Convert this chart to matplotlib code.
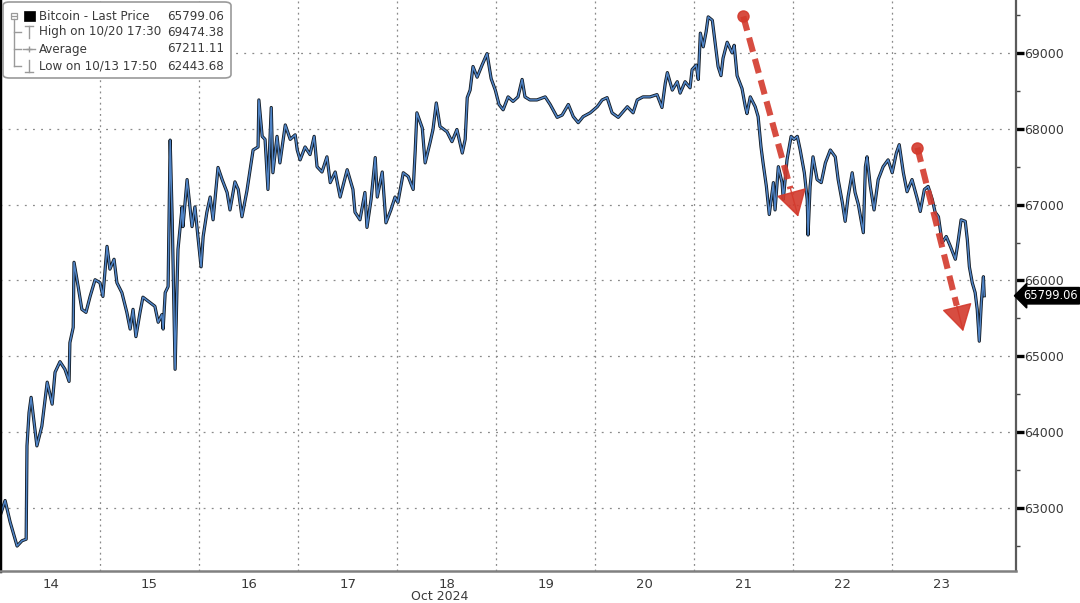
"""
Bitcoin last price, Oct 14-23 2024, Bloomberg-style chart
"""

import matplotlib
matplotlib.use('Agg')
import matplotlib.pyplot as plt
from matplotlib.patches import FancyBboxPatch
from matplotlib.lines import Line2D
from matplotlib.ticker import FixedLocator, FixedFormatter, NullFormatter
from matplotlib.transforms import blended_transform_factory

# hours since Oct 14 00:00
hours = [-0.2, 1.0, 2.2, 3.9, 5.1, 6.1, 6.3, 6.8, 7.3, 8.7,
         9.9, 11.2, 12.4, 13.1, 14.3, 15.5, 16.5, 16.7, 17.5, 17.7,
         18.7, 19.6, 20.6, 21.6, 22.8, 24.0, 24.7, 25.7, 26.4, 27.4,
         28.1, 29.3, 30.5, 31.3, 32.0, 32.7, 33.7, 34.4, 36.1, 37.3,
         38.1, 39.0, 39.3, 39.8, 40.5, 41.0, 41.5, 42.2, 42.7, 42.9,
         43.9, 44.1, 45.1, 46.3, 47.0, 47.8, 48.5, 49.0, 49.9, 50.7,
         51.4, 52.6, 53.6, 54.8, 55.5, 56.7, 57.5, 58.4, 59.6, 61.1,
         62.3, 62.5, 63.3, 64.0, 64.7, 65.5, 65.9, 66.9, 67.6, 68.9,
         70.1, 71.3, 71.8, 72.5, 73.7, 74.9, 75.9, 76.6, 77.8, 79.0,
         79.8, 81.0, 82.2, 83.9, 85.3, 85.8, 87.0, 88.2, 88.7, 89.7,
         90.7, 91.2, 92.4, 93.3, 94.5, 95.5, 96.2, 97.5, 98.7, 99.9,
         100.4, 100.8, 102.1, 102.8, 104.0, 104.7, 105.5, 106.4, 108.1, 109.3,
         110.5, 111.8, 112.5, 113.0, 113.7, 114.4, 115.4, 116.6, 117.8, 118.8,
         119.8, 120.7, 121.7, 122.9, 124.1, 125.3, 126.3, 127.0, 128.2, 129.9,
         131.9, 133.1, 134.8, 136.0, 137.5, 138.7, 139.9, 141.1, 142.8, 144.5,
         145.7, 146.9, 148.1, 149.6, 151.8, 153.2, 154.2, 155.6, 157.3, 159.0,
         160.2, 161.0, 161.5, 162.7, 163.9, 164.6, 165.8, 167.0, 167.5, 168.5,
         169.0, 169.5, 170.2, 170.9, 171.4, 172.4, 173.1, 173.8, 174.5, 175.0,
         176.0, 177.2, 177.7, 178.4, 179.6, 180.4, 180.8, 181.6, 182.8, 183.5,
         184.2, 184.7, 185.5, 186.2, 187.2, 187.6, 188.4, 189.3, 189.6, 190.5,
         191.5, 192.2, 193.0, 193.7, 194.7, 195.4, 195.6, 196.1, 196.8, 197.8,
         198.8, 199.8, 201.0, 202.2, 202.9, 203.9, 204.6, 205.3, 206.3, 207.0,
         207.8, 209.0, 209.5, 209.9, 210.7, 211.6, 212.6, 213.8, 215.0, 216.0,
         217.0, 217.7, 218.7, 219.6, 220.8, 222.1, 222.8, 223.8, 224.7, 225.7,
         226.4, 227.2, 228.1, 229.1, 230.1, 231.3, 231.8, 232.7, 233.7, 234.2,
         234.7, 235.4, 236.1, 236.6, 237.1, 237.6, 238.1, 238.3]

prices = [62900, 63100, 62820, 62500, 62570, 62590, 63820, 64260, 64460, 63820,
          64080, 64660, 64370, 64790, 64930, 64830, 64670, 65180, 65380, 66240,
          65920, 65620, 65580, 65790, 66010, 65970, 65790, 66450, 66150, 66280,
          65970, 65840, 65580, 65360, 65620, 65260, 65580, 65780, 65710, 65660,
          65450, 65550, 65360, 65840, 65920, 67850, 66800, 64830, 66010, 66410,
          66970, 66710, 67330, 66710, 66970, 66540, 66180, 66580, 66900, 67100,
          66800, 67490, 67330, 67160, 66930, 67300, 67200, 66840, 67180, 67720,
          67760, 68380, 67900, 67860, 67200, 68280, 67420, 67900, 67550, 68050,
          67860, 67920, 67720, 67590, 67760, 67660, 67900, 67500, 67430, 67630,
          67290, 67430, 67100, 67460, 67200, 66900, 66800, 67160, 66700, 67070,
          67620, 67100, 67430, 66760, 66930, 67100, 67030, 67420, 67370, 67200,
          67720, 68210, 68010, 67550, 67820, 67990, 68340, 68030, 67960, 67830,
          67990, 67680, 67860, 68410, 68510, 68820, 68680, 68840, 68990, 68660,
          68510, 68320, 68250, 68420, 68360, 68420, 68650, 68420, 68380, 68380,
          68420, 68320, 68150, 68180, 68320, 68160, 68080, 68160, 68210, 68290,
          68380, 68410, 68210, 68150, 68290, 68210, 68380, 68420, 68420, 68450,
          68280, 68600, 68740, 68510, 68620, 68470, 68620, 68540, 68780, 68840,
          68650, 69260, 69080, 69280, 69474.38, 69430, 69130, 68820, 68700, 68930,
          69140, 69000, 69100, 68700, 68530, 68290, 68200, 68420, 68290, 68160,
          67760, 67550, 67240, 66870, 67290, 66930, 67500, 67290, 67070, 67590,
          67900, 67860, 67900, 67720, 67420, 67070, 66600, 67240, 67630, 67330,
          67290, 67550, 67720, 67630, 67330, 67030, 66780, 67100, 67420, 67160,
          67000, 66630, 67500, 67630, 67240, 66930, 67330, 67500, 67590, 67420,
          67680, 67790, 67420, 67170, 67330, 67070, 66910, 67200, 67240, 67070,
          66900, 66840, 66500, 66580, 66450, 66280, 66450, 66800, 66780, 66540,
          66180, 65970, 65840, 65620, 65200, 65710, 66050, 65799.06]

day_labels = ['14', '15', '16', '17', '18', '19', '20', '21', '22', '23']
y_ticks = [63000, 64000, 65000, 66000, 67000, 68000, 69000]

# legend rows: label, value
legend_rows = [('Bitcoin - Last Price', 65799.06),
               ('High on 10/20 17:30', 69474.38),
               ('Average', 67211.11),
               ('Low on 10/13 17:50', 62443.68)]

# red "drop" arrows: (start hour, start price, end hour, end price)
drop_arrows = [(179.9, 69480, 193.2, 66840),
               (222.1, 67750, 233.2, 65330)]

FONT = 'DejaVu Sans'
TXT = '#3a3a3a'
RED = '#d3392c'

fig = plt.figure(figsize=(10.8, 6.03), dpi=100)
ax = fig.add_axes([0.0, 32 / 603, 1016 / 1080, 571 / 603])

# price line: dark outline with blue on top
ax.plot(hours, prices, color='#101820', linewidth=2.3)
ax.plot(hours, prices, color='#5084c6', linewidth=1.1)

ax.set_xlim(-0.24, 246.0)
ax.set_ylim(62171, 69697)

# x axis: gridlines at midnight, labels at noon
ax.xaxis.set_major_locator(FixedLocator([24 * i for i in range(1, 10)]))
ax.xaxis.set_major_formatter(NullFormatter())
ax.xaxis.set_minor_locator(FixedLocator([12 + 24 * i for i in range(len(day_labels))]))
ax.xaxis.set_minor_formatter(FixedFormatter(day_labels))
ax.tick_params(axis='x', which='both', length=0, labelsize=9.5, labelcolor=TXT, pad=5)

# y axis on the right
ax.yaxis.tick_right()
ax.yaxis.set_major_locator(FixedLocator(y_ticks))
ax.yaxis.set_minor_locator(FixedLocator([v + 500 for v in [62000] + y_ticks]))
ax.set_yticklabels([str(v) for v in y_ticks])
ax.tick_params(axis='y', which='major', length=5.5, width=2.4, color='black',
               labelsize=9, labelcolor=TXT, pad=0.5)
ax.tick_params(axis='y', which='minor', length=3, width=1, color='#444444')

for lbl in ax.get_xticklabels(minor=True) + ax.get_yticklabels():
    lbl.set_family(FONT)

ax.grid(True, axis='x', which='major', linestyle=(0, (1.5, 3)), color='#8a8a8a', linewidth=0.9)
ax.grid(True, axis='y', which='major', linestyle=(0, (1.5, 5)), color='#8a8a8a', linewidth=0.9)

ax.spines['top'].set_visible(False)
ax.spines['right'].set_color('#5a5a5a')
ax.spines['right'].set_linewidth(1.6)
ax.spines['bottom'].set_color('#808080')
ax.spines['bottom'].set_linewidth(1.8)
ax.spines['left'].set_color('black')
ax.spines['left'].set_linewidth(2.5)

fig.text(440 / 1080, 1 - 597 / 603, 'Oct 2024', ha='center', va='center',
         fontsize=9, color=TXT, family=FONT)

# last price tag on the right axis
trans = blended_transform_factory(ax.transAxes, ax.transData)
ax.text(1.007, prices[-1], f'{prices[-1]:.2f}', transform=trans, ha='left', va='center',
        fontsize=8.3, color='white', family=FONT, clip_on=False,
        bbox=dict(boxstyle='larrow,pad=0.15', fc='black', ec='black'))

# red dashed arrows
for x0, y0, x1, y1 in drop_arrows:
    mx = x0 + (x1 - x0) * 0.86
    my = y0 + (y1 - y0) * 0.86
    ax.plot([x0, mx], [y0, my], color=RED, linewidth=4.4, linestyle=(0, (2.4, 1.2)),
            alpha=0.9, solid_capstyle='butt')
    ax.plot([x0], [y0], marker='o', markersize=8, color=RED, alpha=0.9)
    ax.annotate('', xy=(x1, y1), xytext=(mx, my),
                arrowprops=dict(arrowstyle='-|>,head_length=1.7,head_width=1.0',
                                color=RED, lw=1, alpha=0.9, shrinkA=0, shrinkB=0))

# legend box (figure pixel coords -> fractions)
def fx(px):
    return px / 1080


def fy(py):
    return 1 - py / 603


box = FancyBboxPatch((fx(3), fy(78)), fx(228), 76 / 603,
                     boxstyle='round,pad=0,rounding_size=0.006',
                     transform=fig.transFigure, fc='white', ec='#9a9a9a', lw=1.2)
fig.add_artist(box)

row_y = [16, 32, 49, 66]
for (label, value), py in zip(legend_rows, row_y):
    fig.text(fx(39), fy(py), label, ha='left', va='center', fontsize=8.6,
             color=TXT, family=FONT)
    fig.text(fx(224), fy(py), f'{value:.2f}', ha='right', va='center', fontsize=8.6,
             color=TXT, family=FONT)

# tree lines and icons
tree = '#9a9a9a'
fig.add_artist(Line2D([fx(14), fx(14)], [fy(19), fy(66)], color=tree, lw=1, transform=fig.transFigure))
for py in row_y[1:]:
    fig.add_artist(Line2D([fx(14), fx(21)], [fy(py), fy(py)], color=tree, lw=1, transform=fig.transFigure))
fig.add_artist(FancyBboxPatch((fx(11), fy(19)), fx(6), 6 / 603, boxstyle='square,pad=0',
                              transform=fig.transFigure, fc='white', ec=tree, lw=0.9))
fig.add_artist(Line2D([fx(12), fx(16)], [fy(16), fy(16)], color=tree, lw=0.9, transform=fig.transFigure))
fig.add_artist(FancyBboxPatch((fx(24), fy(21)), fx(11), 10 / 603, boxstyle='square,pad=0',
                              transform=fig.transFigure, fc='black', ec='black', lw=0.5))
# high: T shape
fig.add_artist(Line2D([fx(25), fx(33)], [fy(26), fy(26)], color=tree, lw=1, transform=fig.transFigure))
fig.add_artist(Line2D([fx(29), fx(29)], [fy(26), fy(38)], color=tree, lw=1, transform=fig.transFigure))
# average: line with dot
fig.add_artist(Line2D([fx(23), fx(35)], [fy(49), fy(49)], color=tree, lw=1, transform=fig.transFigure))
fig.add_artist(Line2D([fx(29)], [fy(49)], marker='+', markersize=5, color=tree, transform=fig.transFigure))
# low: inverted T
fig.add_artist(Line2D([fx(25), fx(33)], [fy(72), fy(72)], color=tree, lw=1, transform=fig.transFigure))
fig.add_artist(Line2D([fx(29), fx(29)], [fy(60), fy(72)], color=tree, lw=1, transform=fig.transFigure))

fig.savefig('out.png', dpi=100)
